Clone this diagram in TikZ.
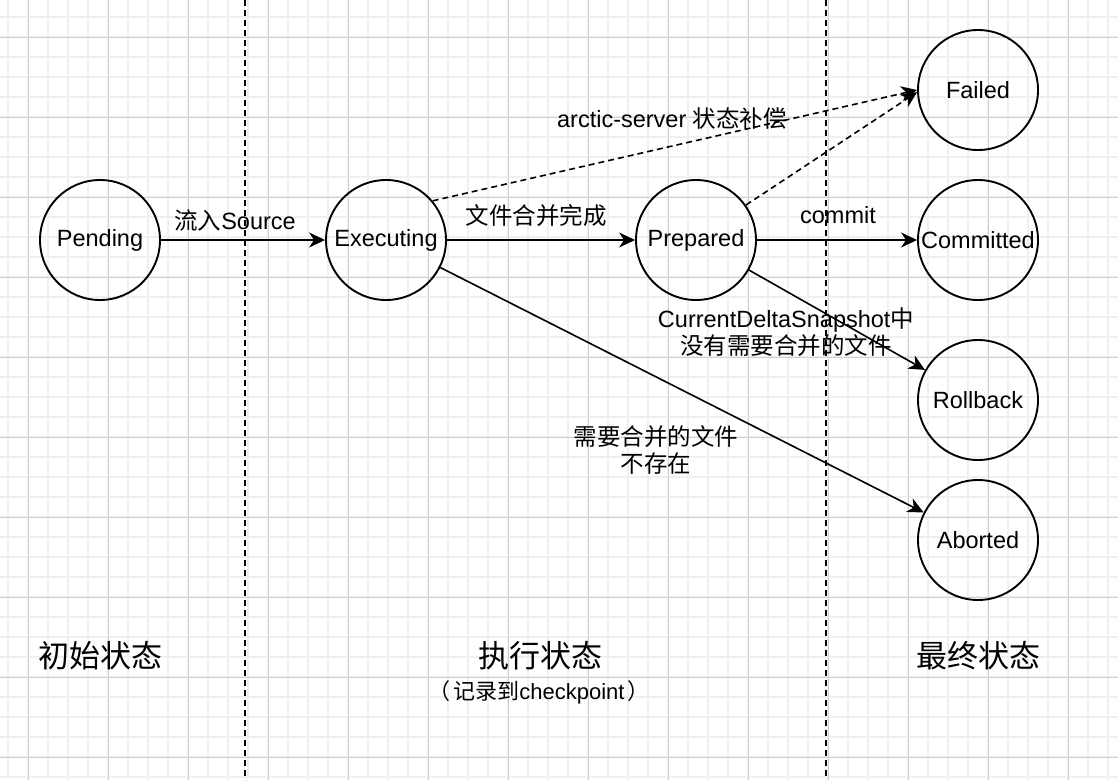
\documentclass[tikz,border=0pt]{standalone}
\usepackage{fontspec}
\setmainfont{Liberation Sans}
\newfontfamily\cjk{Noto Sans CJK SC}
\usetikzlibrary{arrows.meta}
\definecolor{gridminor}{RGB}{240,240,240}
\definecolor{gridmajor}{RGB}{208,208,208}
\tikzset{
  stnode/.style={circle, draw=black, line width=1.9pt, minimum size=120pt, inner sep=0pt, fill=none,
    font=\fontsize{23.5}{27}\selectfont},
  lbl/.style={inner sep=0pt, align=center, font=\fontsize{23.5}{27}\selectfont},
  title/.style={inner sep=0pt, align=center, font=\fontsize{31}{36}\selectfont\cjk},
  sub/.style={inner sep=0pt, align=center, font=\fontsize{22}{26}\selectfont},
  conn/.style={line width=1.6pt, -{Stealth[length=16pt,width=15pt,inset=5pt]}},
  dconn/.style={conn, dash pattern=on 6pt off 4pt},
  sep/.style={line width=1.6pt, dash pattern=on 6pt off 4pt},
}
\begin{document}
\begin{tikzpicture}[x=1pt,y=-1pt]
\useasboundingbox (0,0) rectangle (1118,780);
\fill[white] (0,0) rectangle (1118,780);
% grid
\foreach \x in {8,28,...,1118} \draw[gridminor, line width=1.2pt] (\x,0) -- (\x,780);
\foreach \y in {17,37,...,780} \draw[gridminor, line width=1.2pt] (0,\y) -- (1118,\y);
\foreach \x in {28,108,...,1118} \draw[gridmajor, line width=0.9pt] (\x,0) -- (\x,780);
\foreach \y in {37,117,...,780} \draw[gridmajor, line width=0.9pt] (0,\y) -- (1118,\y);
% separators
\coordinate (s1t) at (245,0); \coordinate (s1b) at (245,780);
\coordinate (s2t) at (826,0); \coordinate (s2b) at (826,780);
\draw[sep] (s1t) -- (s1b);
\draw[sep] (s2t) -- (s2b);
% states
\node[stnode] (pending) at (100,240) {Pending};
\node[stnode] (executing) at (386,240) {Executing};
\node[stnode] (prepared) at (696,240) {Prepared};
\node[stnode] (failed) at (978,90) {Failed};
\node[stnode] (committed) at (978,240) {Committed};
\node[stnode] (rollback) at (978,400) {Rollback};
\node[stnode] (aborted) at (978,540) {Aborted};
% connectors
\draw[conn] (pending) -- (executing);
\draw[conn] (executing) -- (prepared);
\draw[conn] (prepared) -- (committed);
\draw[dconn] (executing.40) -- (failed.180);
\draw[dconn] (prepared.35) -- (failed.182);
\draw[conn] (prepared) -- (rollback);
\draw[conn] (executing) -- (aborted);
% labels
\node[lbl] (l1) at (235,221) {{\cjk 流入}Source};
\node[lbl] (l2) at (536,216) {\cjk 文件合并完成};
\node[lbl] (l3) at (838,215) {commit};
\node[lbl] (l4) at (672,119) {arctic-server {\cjk 状态补偿}};
\node[lbl] (l5) at (786,332) {CurrentDeltaSnapshot{\cjk 中}\\{\cjk 没有需要合并的文件}};
\node[lbl] (l6) at (656,450) {\cjk 需要合并的文件\\\cjk 不存在};
% titles
\node[title] (t1) at (100,656) {初始状态};
\node[title] (t2) at (540,656) {执行状态};
\node[sub] (t2s) at (539,692) {{\cjk （\kern3pt 记录到}checkpoint{\cjk \kern3pt ）}};
\node[title] (t3) at (978,656) {最终状态};
\end{tikzpicture}
\end{document}
